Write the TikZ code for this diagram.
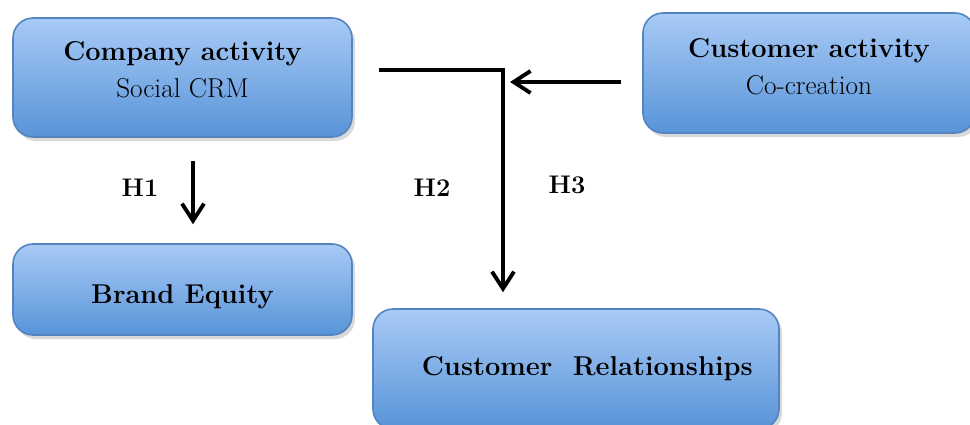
\documentclass[tikz,border=0pt]{standalone}
\usepackage{xcolor}
\usepackage{tikz}
\usetikzlibrary{arrows,arrows.meta,positioning,calc,shadows}
\definecolor{boxtop}{RGB}{168,202,246}
\definecolor{boxbot}{RGB}{88,148,216}
\definecolor{boxline}{RGB}{84,132,192}
\tikzset{block/.style={draw=boxline,line width=0.9pt,rounded corners=0.4cm,
    top color=boxtop,bottom color=boxbot,align=center,
    drop shadow={shadow xshift=0.06cm,shadow yshift=-0.08cm,opacity=0.3},
    font=\fontsize{15.5}{21}\selectfont}}
\tikzset{hyp/.style={font=\fontsize{14.5}{17}\selectfont\bfseries}}

\begin{document}
\begin{tikzpicture}[line width=2.2pt, >={Straight Barb[length=0.34cm,width=0.44cm]}]
        \useasboundingbox (0,0) rectangle (19.4,8.48);
        \node[block,minimum width=6.78cm,minimum height=2.38cm] (comp) at (3.65,6.93)
            {\textbf{Company activity}\\Social CRM\\[-0.4cm]};
        \node[block,minimum width=6.64cm,minimum height=2.4cm] (act) at (16.18,7.02)
            {\textbf{Customer activity}\\Co-creation\\[-0.46cm]};
        \node[block,minimum width=6.78cm,minimum height=1.82cm] (brand) at (3.65,2.69)
            {\smash{\raisebox{-0.27cm}{\textbf{Brand Equity}}}};
        \node[block,minimum width=8.12cm,minimum height=2.4cm] (rel) at (11.52,1.1)
            {\hspace*{0.45cm}\textbf{Customer\ \ Relationships}};
        \coordinate (join) at (10.06,7.08);
        \coordinate (meet) at (10.2,6.84);
        \node[hyp] (h1) at (2.8,4.72) {H1};
        \node[hyp] (h2) at (8.64,4.72) {H2};
        \node[hyp] (h3) at (11.34,4.78) {H3};
        \draw[->] ([xshift=0.21cm,yshift=-0.46cm]comp.south) -- ([xshift=0.21cm,yshift=0.38cm]brand.north);
        \draw[->,shorten >=0.32cm] ([xshift=0.52cm]comp.east |- join) -- (join) -- (join |- rel.north);
        \draw[->] ([xshift=-0.42cm]act.west |- meet) -- (meet);
\end{tikzpicture}
\end{document}
